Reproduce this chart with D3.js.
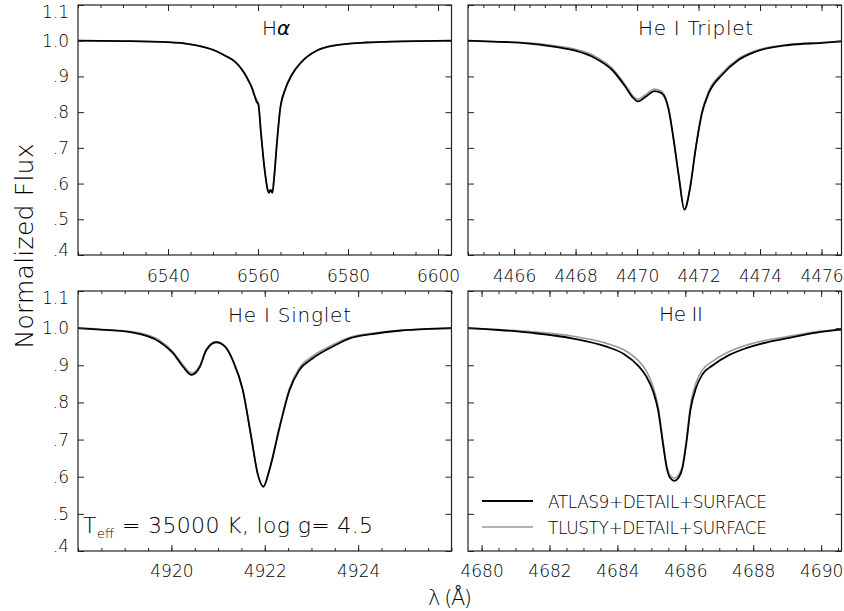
<!DOCTYPE html>
<html><head><meta charset="utf-8">
<script src="https://cdn.jsdelivr.net/npm/d3@7"></script>
<style>
html,body{margin:0;padding:0;background:#fff;}
svg text{font-family:"DejaVu Sans",sans-serif;font-weight:200;fill:#000;}
</style></head><body>
<svg id="c" width="844" height="611"></svg>
<script>
// ---------- data ----------
const haWave   = [6520, 6530, 6540, 6545, 6548, 6550.5, 6552.7, 6554.5, 6555.6, 6557.0, 6557.8, 6558.7, 6559.3, 6559.7, 6560.07, 6560.67, 6561.4, 6562.15, 6562.44, 6562.8, 6563.2, 6563.6, 6564.2, 6564.9, 6566.0, 6567.5, 6569.7, 6573.0, 6576.7, 6584.0, 6591.6, 6603];
const haAtlas  = [1.000, 0.999, 0.996, 0.990, 0.982, 0.972, 0.958, 0.945, 0.932, 0.908, 0.890, 0.866, 0.843, 0.829, 0.822, 0.740, 0.647, 0.582, 0.574, 0.582, 0.574, 0.619, 0.713, 0.806, 0.862, 0.904, 0.941, 0.972, 0.986, 0.995, 0.998, 1.000];
const haTlusty = [1.000, 0.999, 0.996, 0.990, 0.982, 0.972, 0.958, 0.946, 0.933, 0.910, 0.892, 0.868, 0.846, 0.835, 0.826, 0.742, 0.648, 0.583, 0.576, 0.583, 0.576, 0.620, 0.714, 0.807, 0.863, 0.905, 0.942, 0.972, 0.986, 0.995, 0.998, 1.000];

const triWave   = [4464.5, 4465.5, 4466.25, 4467.34, 4467.99, 4468.64, 4469.19, 4469.62, 4469.84, 4470.03, 4470.28, 4470.57, 4470.8, 4471.03, 4471.19, 4471.36, 4471.54, 4471.73, 4471.9, 4472.11, 4472.33, 4472.76, 4473.3, 4473.85, 4474.93, 4476.02, 4476.65];
const triAtlas  = [1.000, 0.997, 0.994, 0.983, 0.972, 0.951, 0.918, 0.871, 0.843, 0.830, 0.843, 0.859, 0.853, 0.806, 0.722, 0.619, 0.527, 0.591, 0.694, 0.797, 0.853, 0.904, 0.946, 0.969, 0.988, 0.994, 0.998];
const triTlusty = [1.000, 0.997, 0.995, 0.986, 0.976, 0.956, 0.923, 0.876, 0.848, 0.836, 0.849, 0.865, 0.858, 0.809, 0.724, 0.620, 0.528, 0.592, 0.696, 0.801, 0.858, 0.909, 0.950, 0.972, 0.989, 0.995, 0.998];

const sinWave   = [4918.0, 4918.47, 4919.18, 4919.75, 4920.04, 4920.25, 4920.43, 4920.61, 4920.75, 4920.96, 4921.15, 4921.32, 4921.53, 4921.71, 4921.85, 4921.97, 4922.1, 4922.32, 4922.53, 4922.74, 4923.03, 4923.45, 4923.81, 4924.3, 4924.88, 4925.5, 4926.0];
const sinAtlas  = [1.000, 0.996, 0.988, 0.963, 0.932, 0.896, 0.874, 0.896, 0.941, 0.962, 0.950, 0.912, 0.833, 0.707, 0.607, 0.573, 0.618, 0.734, 0.833, 0.887, 0.919, 0.950, 0.972, 0.984, 0.993, 0.998, 1.000];
const sinTlusty = [1.000, 0.997, 0.990, 0.967, 0.936, 0.901, 0.879, 0.900, 0.943, 0.963, 0.951, 0.913, 0.834, 0.708, 0.607, 0.575, 0.620, 0.737, 0.838, 0.893, 0.925, 0.955, 0.975, 0.986, 0.994, 0.998, 1.000];

const heiiWave   = [4679.6, 4680.5, 4681.5, 4682.7, 4683.68, 4684.2, 4684.6, 4684.85, 4685.05, 4685.2, 4685.34, 4685.45, 4685.55, 4685.68, 4685.8, 4685.92, 4686.03, 4686.15, 4686.32, 4686.5, 4686.81, 4687.3, 4687.79, 4688.4, 4689.06, 4690.0, 4690.6];
const heiiAtlas  = [1.000, 0.995, 0.987, 0.972, 0.950, 0.930, 0.900, 0.870, 0.830, 0.779, 0.690, 0.625, 0.597, 0.589, 0.597, 0.625, 0.690, 0.779, 0.840, 0.875, 0.900, 0.928, 0.946, 0.962, 0.974, 0.990, 0.996];
const heiiTlusty = [1.000, 0.996, 0.990, 0.978, 0.959, 0.941, 0.914, 0.885, 0.843, 0.788, 0.698, 0.632, 0.604, 0.596, 0.604, 0.632, 0.698, 0.791, 0.854, 0.887, 0.911, 0.937, 0.954, 0.968, 0.978, 0.992, 0.997];

const yTickValues = [1.1, 1.0, 0.9, 0.8, 0.7, 0.6, 0.5, 0.4];
const yTickLabels = ["1.1", "1.0", ".9", ".8", ".7", ".6", ".5", ".4"];
const haTicks   = [6540, 6560, 6580, 6600];
const triTicks  = [4466, 4468, 4470, 4472, 4474, 4476];
const sinTicks  = [4920, 4922, 4924];
const heiiTicks = [4680, 4682, 4684, 4686, 4688, 4690];
const panelTitles = ["Hα", "He I Triplet", "He I Singlet", "He II"];
const seriesNames = ["ATLAS9+DETAIL+SURFACE", "TLUSTY+DETAIL+SURFACE"];

// ---------- layout ----------
const svg = d3.select("#c");
const colors = {atlas: "#000", tlusty: "#999"};
const panels = [
  {wave: haWave, a: haAtlas, t: haTlusty, dom: [6520, 6603], ticks: haTicks, minorStep: 5, box: [78, 451.5, 5, 255], ylab: true, pad: 15},
  {wave: triWave, a: triAtlas, t: triTlusty, dom: [4464.5, 4476.65], ticks: triTicks, minorStep: 0.5, box: [468, 841.5, 5, 255], ylab: false, pad: 15},
  {wave: sinWave, a: sinAtlas, t: sinTlusty, dom: [4918, 4926], ticks: sinTicks, minorStep: 0.5, box: [78, 451.5, 291, 551], ylab: true, pad: 14},
  {wave: heiiWave, a: heiiAtlas, t: heiiTlusty, dom: [4679.6, 4690.6], ticks: heiiTicks, minorStep: 0.5, box: [468, 841.5, 291, 551], ylab: false, pad: 14}
];

panels.forEach((p, idx) => {
  const [x0, x1, y0, y1] = p.box;
  const x = d3.scaleLinear().domain(p.dom).range([x0, x1]);
  const y = d3.scaleLinear().domain([0.4, 1.1]).range([y1, y0]);
  const minors = d3.range(Math.ceil(p.dom[0] / p.minorStep) * p.minorStep, p.dom[1] + 1e-9, p.minorStep);
  const g = svg.append("g");

  const clipId = "clip" + idx;
  svg.append("clipPath").attr("id", clipId).append("rect")
    .attr("x", x0).attr("y", y0).attr("width", x1 - x0).attr("height", y1 - y0);

  const line = d3.line().x(d => x(d[0])).y(d => y(d[1])).curve(d3.curveMonotoneX);
  g.append("path").datum(p.wave.map((w, i) => [w, p.t[i]]))
    .attr("d", line).attr("fill", "none").attr("stroke", colors.tlusty)
    .attr("stroke-width", 1.6).attr("clip-path", `url(#${clipId})`);
  g.append("path").datum(p.wave.map((w, i) => [w, p.a[i]]))
    .attr("d", line).attr("fill", "none").attr("stroke", colors.atlas)
    .attr("stroke-width", 1.8).attr("clip-path", `url(#${clipId})`);

  // axes
  const styleAxis = sel => { sel.select(".domain").remove(); sel.selectAll("line").attr("stroke", "#222").attr("stroke-width", 1); sel.attr("font-size", 17).attr("font-family", null); };
  g.append("g").attr("transform", `translate(0,${y1})`)
    .call(d3.axisBottom(x).tickValues(p.ticks).tickSize(-6).tickPadding(p.pad).tickFormat(d3.format("d"))).call(styleAxis);
  g.append("g").attr("transform", `translate(0,${y1})`)
    .call(d3.axisBottom(x).tickValues(minors).tickSize(-3).tickFormat("")).call(styleAxis);
  g.append("g").attr("transform", `translate(0,${y0})`)
    .call(d3.axisTop(x).tickValues(p.ticks).tickSize(-6).tickFormat("")).call(styleAxis);
  g.append("g").attr("transform", `translate(0,${y0})`)
    .call(d3.axisTop(x).tickValues(minors).tickSize(-3).tickFormat("")).call(styleAxis);
  const yl = g.append("g").attr("transform", `translate(${x0},0)`)
    .call(d3.axisLeft(y).tickValues(yTickValues).tickSize(-6).tickPadding(9)
      .tickFormat((d, i) => p.ylab ? yTickLabels[i] : "")).call(styleAxis);
  yl.selectAll("text").attr("transform", d => d > 1.05 ? "translate(0,7)" : (d < 0.45 ? "translate(0,-5)" : null));
  g.append("g").attr("transform", `translate(${x1},0)`)
    .call(d3.axisRight(y).tickValues(yTickValues).tickSize(-6).tickFormat("")).call(styleAxis);

  g.append("rect").attr("x", x0).attr("y", y0).attr("width", x1 - x0).attr("height", y1 - y0)
    .attr("fill", "none").attr("stroke", "#222").attr("stroke-width", 1.2);
});

// titles
const t0 = svg.append("text").attr("x", 262).attr("y", 35).attr("font-size", 20);
t0.append("tspan").text("H");
t0.append("tspan").attr("font-style", "italic").text("α");
svg.append("text").attr("x", 638).attr("y", 35).attr("font-size", 20).attr("textLength", 115).text(panelTitles[1]);
svg.append("text").attr("x", 228).attr("y", 322).attr("font-size", 20).attr("textLength", 123).text(panelTitles[2]);
svg.append("text").attr("x", 659).attr("y", 321).attr("font-size", 20).attr("textLength", 44).text(panelTitles[3]);

// annotation
svg.append("text").attr("x", 83).attr("y", 533).attr("font-size", 22).text("T");
svg.append("text").attr("x", 97).attr("y", 538).attr("font-size", 13).text("eff");
svg.append("text").attr("x", 122).attr("y", 533).attr("font-size", 22).attr("textLength", 251).text("= 35000 K, log g= 4.5");

// legend
[[seriesNames[0], colors.atlas, 501, 1.8], [seriesNames[1], colors.tlusty, 527, 1.6]].forEach(([name, col, yy, sw]) => {
  svg.append("line").attr("x1", 482).attr("x2", 533).attr("y1", yy).attr("y2", yy).attr("stroke", col).attr("stroke-width", sw);
  svg.append("text").attr("x", 548).attr("y", yy + 7).attr("font-size", 17).attr("textLength", 219).text(name);
});

// axis titles
svg.append("text").attr("transform", "translate(33,246) rotate(-90)").attr("text-anchor", "middle")
  .attr("font-size", 25).attr("textLength", 205).text("Normalized Flux");
svg.append("text").attr("x", 428).attr("y", 605).attr("font-size", 21).attr("textLength", 44).text("λ (Å)");
</script>
</body></html>
